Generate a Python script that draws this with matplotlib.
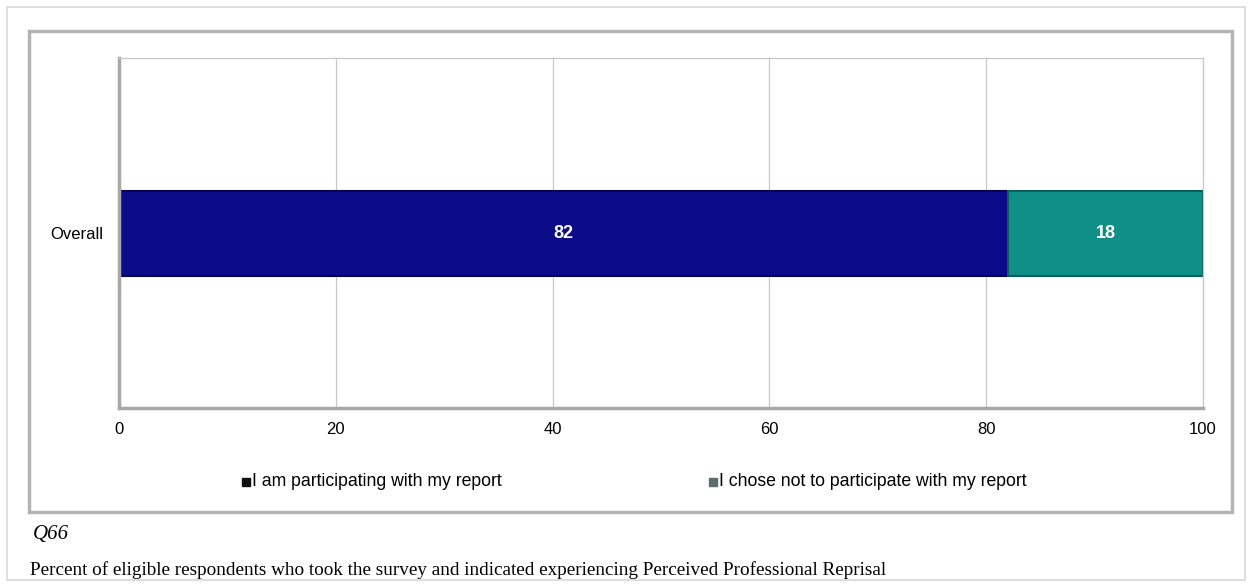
import matplotlib.pyplot as plt
from matplotlib.patches import Rectangle
import matplotlib.lines as mlines

categories = ["Overall"]
series_names = ["I am participating with my report", "I chose not to participate with my report"]
values_participating = [82]
values_not = [18]
colors = ["#0c0c8a", "#0f8f88"]
edge_colors = ["#06064f", "#0a5f5a"]
legend_marker_colors = ["#111111", "#5a6e6c"]
xticks = [0, 20, 40, 60, 80, 100]

W, H = 1252, 585
fig = plt.figure(figsize=(W / 100, H / 100), dpi=100)
fig.patch.set_facecolor("white")

def fx(px):
    return px / W

def fy(py):
    return 1 - py / H

# outer frame
fig.add_artist(Rectangle((fx(7), fy(580)), fx(1245) - fx(7), fy(7) - fy(580),
                         transform=fig.transFigure, fill=False, edgecolor="#d8d8d8", lw=1.2))
# inner chart box
fig.add_artist(Rectangle((fx(29), fy(512)), fx(1232) - fx(29), fy(31) - fy(512),
                         transform=fig.transFigure, fill=False, edgecolor="#b4b4b4", lw=2.5))

ax = fig.add_axes([fx(119), fy(408), fx(1203) - fx(119), fy(58) - fy(408)])
ax.set_xlim(0, 100)
ax.set_ylim(-1, 1)
ax.set_xticks(xticks)
ax.set_xticklabels([str(t) for t in xticks], fontsize=12, family="Liberation Sans")
ax.set_yticks([0])
ax.set_yticklabels(categories, fontsize=12, family="Liberation Sans")
ax.tick_params(axis="x", length=0, pad=10)
ax.tick_params(axis="y", length=0, pad=11)
ax.grid(axis="x", color="#c8c8c8", lw=0.9)
ax.set_axisbelow(True)
for s in ["top", "right"]:
    ax.spines[s].set_color("#c8c8c8")
    ax.spines[s].set_linewidth(0.9)
for s in ["left", "bottom"]:
    ax.spines[s].set_color("#a8a8a8")
    ax.spines[s].set_linewidth(2.5)

bar_h = 85 / 350 * 2
left = [0] * len(categories)
series = [values_participating, values_not]
ypos = list(range(len(categories)))
for name, vals, c, ec in zip(series_names, series, colors, edge_colors):
    bars = ax.barh(ypos, vals, left=left, height=bar_h, color=c,
                   edgecolor=ec, lw=1.5, label=name)
    for y, v, l in zip(ypos, vals, left):
        ax.text(l + v / 2, y, f"{v}", color="white", ha="center", va="center",
                fontsize=13, fontweight="bold", family="Liberation Sans")
    left = [l + v for l, v in zip(left, vals)]

# legend (manual placement)
leg_x = [246, 713]
for px, name, mc in zip(leg_x, series_names, legend_marker_colors):
    fig.add_artist(mlines.Line2D([fx(px)], [fy(482)], marker="s", markersize=5.5,
                                 markerfacecolor=mc, markeredgecolor=mc,
                                 linestyle="none", transform=fig.transFigure))
    fig.text(fx(px + 6), fy(482), name, fontsize=12.7, family="Liberation Sans",
             va="center", ha="left")

fig.text(fx(33), fy(535), "Q66", fontsize=15, style="italic", family="Liberation Serif",
         va="center", ha="left")
fig.text(fx(30), fy(570), "Percent of eligible respondents who took the survey and indicated experiencing Perceived Professional Reprisal",
         fontsize=13.8, family="Liberation Serif", va="center", ha="left")

fig.savefig("out.png", dpi=100, facecolor="white")
